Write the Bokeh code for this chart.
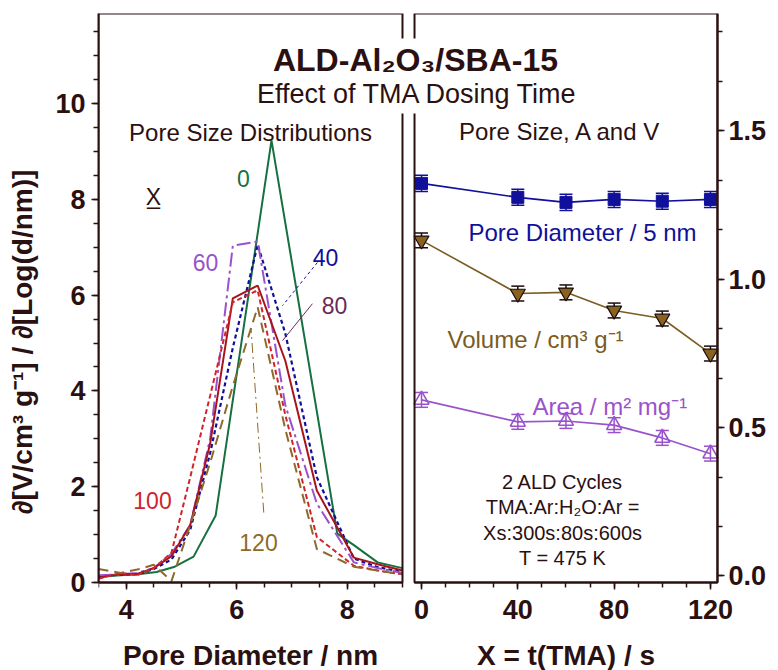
from bokeh.plotting import figure
from bokeh.models import (Range1d, LinearAxis, SingleIntervalTicker, BoxAnnotation, Label,
                          ColumnDataSource, Whisker, TeeHead, NumeralTickFormatter)
from bokeh.embed import file_html
from bokeh.resources import INLINE

# ---------------- data ----------------
# Left panel: pore size distributions for TMA dosing time X (s)
psd_d_0 = [3.5, 3.9, 4.25, 4.55, 4.88, 5.22, 5.62, 6.63, 7.82, 8.12, 8.55, 9.0]
psd_v_0 = [0.12, 0.15, 0.18, 0.22, 0.33, 0.54, 1.40, 9.23, 1.02, 0.78, 0.42, 0.30]

psd_d = [3.5, 3.9, 4.2, 4.5, 4.82, 5.16, 5.52, 5.93, 6.38, 6.88, 7.45, 8.12, 8.55, 9.0]
psd_v_40 = [0.12, 0.17, 0.17, 0.28, 0.48, 1.10, 2.70, 4.90, 7.05, 5.20, 2.20, 0.50, 0.32, 0.22]
psd_v_60 = [0.15, 0.17, 0.20, 0.30, 0.60, 1.20, 3.00, 7.03, 7.12, 3.70, 1.65, 0.42, 0.30, 0.20]
psd_v_80 = [0.10, 0.18, 0.18, 0.30, 0.55, 1.20, 2.90, 5.93, 6.20, 4.63, 1.92, 0.52, 0.38, 0.25]
psd_v_100 = [0.08, 0.20, 0.15, 0.30, 0.62, 2.20, 3.90, 5.85, 6.10, 3.50, 0.95, 0.35, 0.25, 0.17]
psd_v_120 = [0.28, 0.20, 0.27, 0.37, 0.03, 1.20, 2.50, 4.10, 5.75, 3.20, 0.70, 0.33, 0.25, 0.17]

# leader lines from the curve labels (data units)
lead40_x = [7.46, 6.83]
lead40_y = [6.68, 5.78]
lead80_x = [7.37, 6.83]
lead80_y = [5.82, 5.05]
lead120_x = [6.49, 6.26]
lead120_y = [1.46, 5.30]

# Right panel: pore size, area and volume vs TMA dosing time
dose_time = [0, 40, 60, 80, 100, 120]
pore_diam = [1.322, 1.275, 1.258, 1.268, 1.262, 1.268]
pore_diam_err = [0.027, 0.027, 0.027, 0.027, 0.027, 0.027]
pore_volume = [1.130, 0.951, 0.955, 0.894, 0.867, 0.749]
pore_volume_err = [0.025, 0.025, 0.025, 0.025, 0.025, 0.025]
surf_area = [0.593, 0.519, 0.522, 0.508, 0.465, 0.412]
surf_area_err = [0.025, 0.025, 0.025, 0.025, 0.025, 0.025]

# ---------------- style ----------------
FONT = "Liberation Sans"
DARK = "#2b1011"
GREEN = "#167040"
NAVY = "#10109a"
PURPLE = "#9a52cc"
RED_SOLID = "#a8141c"
RED_DASH = "#d0242c"
PLUM = "#6c2a55"
BROWN = "#8e6a2a"
BROWN_R = "#7a5c22"

p = figure(width=778, height=670, output_backend="svg", toolbar_location=None,
           x_axis_location=None, y_axis_location=None,
           x_range=Range1d(3.5, 15.803), y_range=Range1d(-1.837, 11.879),
           min_border_left=98, min_border_right=0, min_border_top=13, min_border_bottom=0)
p.extra_x_ranges = {"rx": Range1d(-134.14, 148.26)}
p.extra_y_ranges = {"ry": Range1d(-0.3182, 1.894)}
p.outline_line_color = None
p.background_fill_color = "white"
p.border_fill_color = "white"
p.grid.grid_line_color = None


def style_axis(ax):
    ax.axis_line_color = DARK
    ax.axis_line_width = 2
    ax.major_tick_line_color = DARK
    ax.minor_tick_line_color = DARK
    ax.major_tick_line_width = 1.5
    ax.minor_tick_line_width = 1.5
    ax.major_tick_out = 7
    ax.major_tick_in = 0
    ax.minor_tick_out = 5
    ax.minor_tick_in = 0
    ax.major_label_text_font = FONT
    ax.major_label_text_font_size = "27px"
    ax.major_label_text_font_style = "bold"
    ax.major_label_text_color = DARK
    ax.axis_label_text_font = FONT
    ax.axis_label_text_font_size = "28px"
    ax.axis_label_text_font_style = "bold"
    ax.axis_label_text_color = DARK


ax_ly = LinearAxis(ticker=SingleIntervalTicker(interval=2, num_minor_ticks=4),
                   bounds=(0, 11.879), axis_label="∂[V/cm³ g⁻¹] / ∂[Log(d/nm)]")
style_axis(ax_ly)
ax_ly.major_label_standoff = 6
ax_ly.axis_label_standoff = 14
p.add_layout(ax_ly, "left")

ax_ry = LinearAxis(x_range_name="rx", y_range_name="ry",
                   ticker=SingleIntervalTicker(interval=0.5, num_minor_ticks=3),
                   bounds=(-0.0219, 1.894), fixed_location=122.9,
                   formatter=NumeralTickFormatter(format="0.0"))
style_axis(ax_ry)
ax_ry.major_label_standoff = 4
p.add_layout(ax_ry, "right")

ax_lx = LinearAxis(ticker=SingleIntervalTicker(interval=2, num_minor_ticks=4),
                   bounds=(3.5, 9.0), fixed_location=0, axis_label="Pore Diameter / nm")
style_axis(ax_lx)
ax_lx.major_label_standoff = 10
ax_lx.axis_label_standoff = 18
p.add_layout(ax_lx, "below")

ax_rx = LinearAxis(x_range_name="rx", ticker=SingleIntervalTicker(interval=40, num_minor_ticks=4),
                   bounds=(-2.9, 122.9), fixed_location=0, axis_label="X = t(TMA) / s")
style_axis(ax_rx)
ax_rx.major_label_standoff = 10
ax_rx.axis_label_standoff = 18
p.add_layout(ax_rx, "below")

# panel frames
p.add_layout(BoxAnnotation(left=3.5, right=9.0, bottom=0, top=11.879, fill_alpha=0,
                           line_color=DARK, line_alpha=1.0, line_width=2))
p.add_layout(BoxAnnotation(left=-2.9, right=122.9, bottom=-0.0219, top=1.894, fill_alpha=0,
                           line_color=DARK, line_alpha=1.0, line_width=2,
                           x_range_name="rx", y_range_name="ry"))

# ---------------- left panel curves ----------------
p.line(psd_d_0, psd_v_0, line_color=GREEN, line_width=2)
p.line(psd_d, psd_v_40, line_color=NAVY, line_width=2.2, line_dash="4 3")
p.line(psd_d, psd_v_60, line_color=PURPLE, line_width=2, line_dash="14 4 3 4")
p.line(psd_d, psd_v_80, line_color=RED_SOLID, line_width=2)
p.line(psd_d, psd_v_100, line_color=RED_DASH, line_width=2, line_dash="5 3")
p.line(psd_d, psd_v_120, line_color=BROWN, line_width=2, line_dash="10 6")

p.line(lead40_x, lead40_y, line_color=NAVY, line_width=1, line_dash="3 3")
p.line(lead80_x, lead80_y, line_color=PLUM, line_width=1)
p.line(lead120_x, lead120_y, line_color=BROWN, line_width=1, line_dash="10 4 2 4")

# ---------------- right panel series ----------------
RN = dict(x_range_name="rx", y_range_name="ry")


def whisk(vals, errs, color, size=13):
    src = ColumnDataSource(dict(t=dose_time,
                                lo=[v - e for v, e in zip(vals, errs)],
                                hi=[v + e for v, e in zip(vals, errs)]))
    w = Whisker(source=src, base="t", lower="lo", upper="hi", dimension="height",
                line_color=color, line_width=1.5,
                upper_head=TeeHead(size=size, line_color=color, line_width=1.5),
                lower_head=TeeHead(size=size, line_color=color, line_width=1.5), **RN)
    p.add_layout(w)


p.line(dose_time, pore_diam, line_color=NAVY, line_width=1.6, **RN)
whisk(pore_diam, pore_diam_err, NAVY)
p.scatter(dose_time, pore_diam, marker="square", size=12, fill_color=NAVY, line_color=NAVY, **RN)

p.line(dose_time, pore_volume, line_color=BROWN_R, line_width=1.6, **RN)
whisk(pore_volume, pore_volume_err, "#1a0a0a")
p.scatter(dose_time, pore_volume, marker="inverted_triangle", size=15, fill_color="#8a6220",
          line_color="#1a0a0a", line_width=1.2, **RN)

p.line(dose_time, surf_area, line_color=PURPLE, line_width=1.6, **RN)
whisk(surf_area, surf_area_err, PURPLE)
p.scatter(dose_time, surf_area, marker="triangle", size=15, fill_color=None,
          line_color=PURPLE, line_width=1.6, **RN)


# ---------------- texts ----------------
def label(x, y, text, size, color=DARK, style="normal", align="center", bg=None, rn=None):
    kw = dict(x=x, y=y, text=text, text_font=FONT, text_font_size=size,
              text_font_style=style, text_color=color, text_align=align,
              text_baseline="alphabetic")
    if bg is not None:
        kw.update(background_fill_color=bg, padding=4)
    if rn:
        kw.update(RN)
    p.add_layout(Label(**kw))


label(9.235, 10.898, "ALD-Al₂O₃/SBA-15", "32px", style="bold", bg="white")
label(9.272, 10.188, "Effect of TMA Dosing Time", "27px", bg="white")
label(6.25, 9.395, "Pore Size Distributions", "24px")
label(4.495, 8.038, "X̲", "23px")
label(6.123, 8.434, "0", "23px", color=GREEN)
label(5.436, 6.681, "60", "23px", color=PURPLE)
label(7.607, 6.785, "40", "23px", color=NAVY)
label(7.770, 5.783, "80", "23px", color=PLUM)
label(4.477, 1.712, "100", "23px", color=RED_DASH)
label(6.395, 0.835, "120", "23px", color=BROWN)

label(57.7, 1.497, "Pore Size, A and V", "24px", rn=True)
label(19.5, 1.157, "Pore Diameter / 5 nm", "24px", color=NAVY, align="left", rn=True)
label(10.8, 0.796, "Volume / cm³ g⁻¹", "24px", color=BROWN_R, align="left", rn=True)
label(46.1, 0.571, "Area / m² mg⁻¹", "24px", color=PURPLE, align="left", rn=True)
label(58.6, 0.315, "2 ALD Cycles", "20px", rn=True)
label(58.6, 0.234, "TMA:Ar:H₂O:Ar =", "20px", rn=True)
label(58.6, 0.146, "Xs:300s:80s:600s", "20px", rn=True)
label(58.6, 0.062, "T = 475 K", "20px", rn=True)

open("out.html", "w").write(file_html(p, INLINE))
